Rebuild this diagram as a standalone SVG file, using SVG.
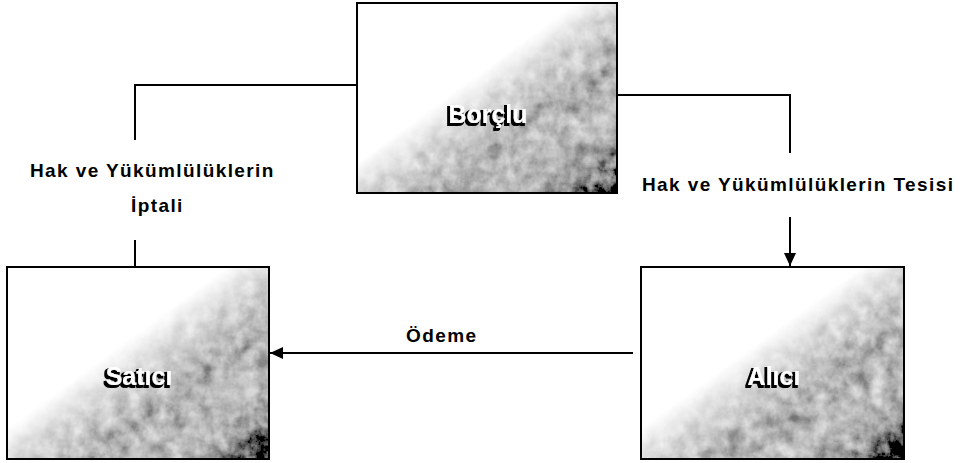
<svg xmlns="http://www.w3.org/2000/svg" width="962" height="463" viewBox="0 0 962 463">
<style>
.box{fill:url(#g)}
.frame{fill:none;stroke:#000;stroke-width:2}
.conn{fill:none;stroke:#000;stroke-width:2}
.lbl{font-family:"Liberation Sans",Arial,sans-serif;font-weight:bold;font-size:19px;letter-spacing:1.4px;fill:#000}
.nl{font-family:"Liberation Sans",Arial,sans-serif;font-weight:bold;font-size:25px;text-anchor:middle;fill:#fff;filter:url(#sh)}
</style>
<defs>
<linearGradient id="g" x1="0" y1="0" x2="1" y2="1">
<stop offset="0" stop-color="#fff"/>
<stop offset="0.42" stop-color="#fff"/>
<stop offset="0.52" stop-color="#d6d6d6"/>
<stop offset="0.66" stop-color="#b0b0b0"/>
<stop offset="0.78" stop-color="#c0c0c0"/>
<stop offset="0.88" stop-color="#a0a0a0"/>
<stop offset="0.94" stop-color="#404040"/>
<stop offset="1" stop-color="#000"/>
</linearGradient>
<filter id="grain" x="0" y="0" width="1" height="1">
<feTurbulence type="fractalNoise" baseFrequency="0.07" numOctaves="4" seed="5" result="n"/>
<feColorMatrix in="n" type="matrix" values="0.8 0.8 0.8 0 -0.7  0.8 0.8 0.8 0 -0.7  0.8 0.8 0.8 0 -0.7  0 0 0 0 1" result="ng"/>
<feComposite in="SourceGraphic" in2="ng" operator="arithmetic" k1="-1" k2="1.5" k3="1" k4="-0.5"/>
</filter>
<filter id="sh" x="-20%" y="-30%" width="140%" height="160%">
<feMorphology in="SourceAlpha" operator="dilate" radius="1" result="d"/>
<feOffset in="d" dx="-2" dy="2" result="o"/>
<feFlood flood-color="#000"/>
<feComposite in2="o" operator="in" result="s"/>
<feMerge><feMergeNode in="s"/><feMergeNode in="SourceGraphic"/></feMerge>
</filter>
<marker id="ah" markerUnits="userSpaceOnUse" markerWidth="14" markerHeight="12" refX="13" refY="6" orient="auto">
<path d="M0,0 L13,6 L0,12 Z" fill="#000"/>
</marker>
</defs>

<g id="connectors">
<path class="conn" d="M357,85 H135 V140"/>
<path class="conn" d="M135,240 V267"/>
<path class="conn" d="M617,95 H790 V153"/>
<path class="conn" d="M790,217 V266" marker-end="url(#ah)"/>
<path class="conn" d="M633,353 H270" marker-end="url(#ah)"/>
<text class="lbl" x="30" y="177">Hak ve Yükümlülüklerin</text>
<text class="lbl" x="131" y="212">İptali</text>
<text class="lbl" x="642" y="191">Hak ve Yükümlülüklerin Tesisi</text>
<text class="lbl" x="406" y="342">Ödeme</text>
</g>

<g id="borclu">
<rect class="box" x="357" y="3" width="260" height="190" filter="url(#grain)"/>
<rect class="frame" x="357" y="3" width="260" height="190"/>
<text class="nl" x="488" y="123">Borçlu</text>
</g>

<g id="satici">
<rect class="box" x="7" y="267" width="262" height="192" filter="url(#grain)"/>
<rect class="frame" x="7" y="267" width="262" height="192"/>
<text class="nl" x="139" y="385">Satıcı</text>
</g>

<g id="alici">
<rect class="box" x="641" y="267" width="263" height="192" filter="url(#grain)"/>
<rect class="frame" x="641" y="267" width="263" height="192"/>
<text class="nl" x="774" y="385">Alıcı</text>
</g>
</svg>
